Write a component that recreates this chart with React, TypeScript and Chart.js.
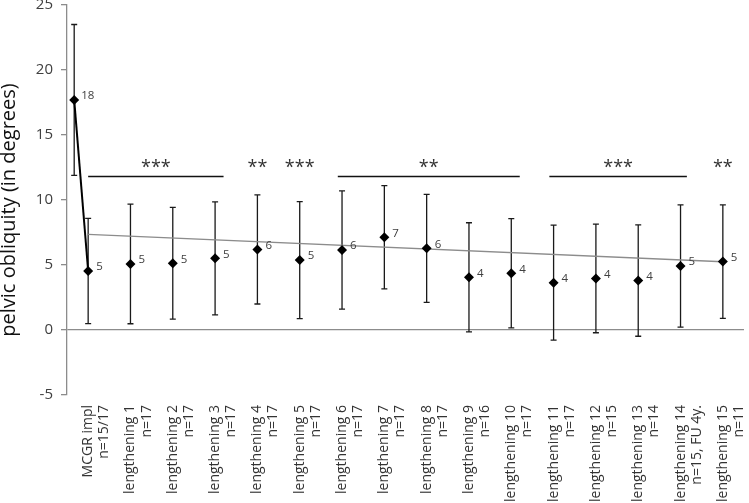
import React, { useEffect, useRef } from 'react';
import { Chart, registerables } from 'chart.js';

Chart.register(...registerables);

// ---- data ----
const categories: string[][] = [
  ['MCGR impl', 'n=15/17'],
  ['lengthening 1', 'n=17'],
  ['lengthening 2', 'n=17'],
  ['lengthening 3', 'n=17'],
  ['lengthening 4', 'n=17'],
  ['lengthening 5', 'n=17'],
  ['lengthening 6', 'n=17'],
  ['lengthening 7', 'n=17'],
  ['lengthening 8', 'n=17'],
  ['lengthening 9', 'n=16'],
  ['lengthening 10', 'n=17'],
  ['lengthening 11', 'n=17'],
  ['lengthening 12', 'n=15'],
  ['lengthening 13', 'n=14'],
  ['lengthening 14', 'n=15, FU 4y.'],
  ['lengthening 15', 'n=11'],
];
const means = [4.54, 5.08, 5.13, 5.51, 6.2, 5.38, 6.15, 7.13, 6.28, 4.05, 4.36, 3.64, 3.97, 3.8, 4.92, 5.26];
const sds = [4.05, 4.6, 4.3, 4.35, 4.2, 4.5, 4.55, 3.97, 4.15, 4.2, 4.2, 4.42, 4.18, 4.28, 4.7, 4.37];
const pointLabels = ['5', '5', '5', '5', '6', '5', '6', '7', '6', '4', '4', '4', '4', '4', '5', '5'];

const preopX = -0.33;
const preopMean = 17.7;
const preopSd = 5.8;
const preopLabel = '18';

const trendX = [0, 15];
const trendY = [7.35, 5.25];

const sigLabels = ['***', '**', '***', '**', '***', '**'];
const sigFrom = [0, 4, 5, 5.9, 10.9, 15];
const sigTo = [3.2, 4, 5, 10.2, 14.15, 15];
const sigLevel = 11.8;

const yMin = -5;
const yMax = 25;
const yStep = 5;
const yTitle = 'pelvic obliquity (in degrees)';

const FONT = "'Open Sans', sans-serif";

const errorBarPlugin = {
  id: 'errorBars',
  beforeDatasetsDraw(chart: any) {
    const { ctx } = chart;
    const x = chart.scales.x;
    const y = chart.scales.y;
    const items = [{ x: preopX, m: preopMean, s: preopSd }].concat(
      means.map((m, i) => ({ x: i, m, s: sds[i] }))
    );
    ctx.save();
    ctx.strokeStyle = '#1a1a1a';
    ctx.lineWidth = 1.3;
    for (const it of items) {
      const px = x.getPixelForValue(it.x);
      const top = y.getPixelForValue(it.m + it.s);
      const bot = y.getPixelForValue(it.m - it.s);
      ctx.beginPath();
      ctx.moveTo(px, top);
      ctx.lineTo(px, bot);
      ctx.moveTo(px - 3, top);
      ctx.lineTo(px + 3, top);
      ctx.moveTo(px - 3, bot);
      ctx.lineTo(px + 3, bot);
      ctx.stroke();
    }
    ctx.restore();
  },
};

const labelsPlugin = {
  id: 'extraLabels',
  afterDatasetsDraw(chart: any) {
    const { ctx } = chart;
    const x = chart.scales.x;
    const y = chart.scales.y;
    ctx.save();
    // point value labels
    ctx.font = `11.5px ${FONT}`;
    ctx.fillStyle = '#404040';
    ctx.textAlign = 'left';
    ctx.textBaseline = 'middle';
    ctx.fillText(preopLabel, x.getPixelForValue(preopX) + 7, y.getPixelForValue(preopMean) - 4);
    means.forEach((m, i) => {
      ctx.fillText(pointLabels[i], x.getPixelForValue(i) + 8, y.getPixelForValue(m) - 4);
    });
    // significance bars
    const by = y.getPixelForValue(sigLevel);
    ctx.strokeStyle = '#111';
    ctx.lineWidth = 1.5;
    ctx.font = `18px ${FONT}`;
    ctx.fillStyle = '#333';
    ctx.textAlign = 'center';
    ctx.textBaseline = 'alphabetic';
    sigLabels.forEach((lab, i) => {
      const x0 = x.getPixelForValue(sigFrom[i]);
      const x1 = x.getPixelForValue(sigTo[i]);
      if (sigTo[i] > sigFrom[i]) {
        ctx.beginPath();
        ctx.moveTo(x0, by);
        ctx.lineTo(x1, by);
        ctx.stroke();
      }
      ctx.fillText(lab, (x0 + x1) / 2, by - 4);
    });
    ctx.restore();
  },
  afterDraw(chart: any) {
    const { ctx, chartArea } = chart;
    ctx.save();
    ctx.font = `20px ${FONT}`;
    ctx.fillStyle = '#111';
    ctx.textAlign = 'center';
    ctx.textBaseline = 'alphabetic';
    ctx.translate(15, (chartArea.top + chartArea.bottom) / 2 + 10);
    ctx.rotate(-Math.PI / 2);
    ctx.fillText(yTitle, 0, 0);
    ctx.restore();
  },
};

export default function App() {
  const ref = useRef<HTMLCanvasElement | null>(null);

  useEffect(() => {
    if (!ref.current) return;
    const chart = new Chart(ref.current, {
      type: 'scatter',
      data: {
        datasets: [
          {
            label: 'mean',
            data: means.map((m, i) => ({ x: i, y: m })),
            showLine: false,
            pointStyle: 'rectRot',
            pointRadius: 5,
            pointBackgroundColor: '#000',
            pointBorderColor: '#000',
            pointBorderWidth: 0,
            order: 0,
          },
          {
            label: 'preop',
            data: [
              { x: preopX, y: preopMean },
              { x: 0, y: means[0] },
            ],
            showLine: true,
            borderColor: '#000',
            borderWidth: 2,
            pointStyle: 'rectRot',
            pointRadius: [5, 0],
            pointBackgroundColor: '#000',
            pointBorderColor: '#000',
            pointBorderWidth: 0,
            order: 1,
          },
          {
            label: 'trend',
            data: trendX.map((v, i) => ({ x: v, y: trendY[i] })),
            showLine: true,
            borderColor: '#8c8c8c',
            borderWidth: 1.3,
            pointRadius: 0,
            order: 2,
          },
        ],
      },
      options: {
        responsive: false,
        animation: false,
        events: [],
        layout: { padding: { top: 5, right: 5, left: 0, bottom: 0 } },
        plugins: {
          legend: { display: false },
          tooltip: { enabled: false },
          title: { display: false },
        },
        scales: {
          x: {
            type: 'linear',
            min: -0.5,
            max: 15.5,
            afterBuildTicks: (scale: any) => {
              scale.ticks = categories.map((_, i) => ({ value: i }));
            },
            afterFit: (scale: any) => {
              scale.height = 108;
              scale.paddingLeft = 0;
              scale.paddingRight = 0;
            },
            grid: { display: false, drawTicks: false },
            border: { display: false },
            ticks: {
              autoSkip: false,
              maxRotation: 90,
              minRotation: 90,
              padding: 10,
              color: '#333',
              font: { family: FONT, size: 14, lineHeight: 1.15 },
              callback: (value: any) => categories[Math.round(Number(value))] ?? '',
            },
          },
          y: {
            type: 'linear',
            min: yMin,
            max: yMax,
            afterFit: (scale: any) => {
              scale.width = 67;
              scale.paddingTop = 0;
              scale.paddingBottom = 0;
            },
            grid: {
              color: (c: any) => (c.tick && c.tick.value === 0 ? '#8c8c8c' : 'rgba(0,0,0,0)'),
              tickColor: '#8c8c8c',
              tickLength: 6,
              lineWidth: 1.3,
            },
            border: { display: true, color: '#8c8c8c', width: 1.3 },
            ticks: {
              stepSize: yStep,
              padding: 8,
              color: '#404040',
              font: { family: FONT, size: 15 },
            },
          },
        },
      },
      plugins: [errorBarPlugin, labelsPlugin],
    } as any);
    return () => chart.destroy();
  }, []);

  return (
    <div style={{ position: 'fixed', left: 0, top: 0, width: 749, height: 503, background: '#fff' }}>
      <canvas ref={ref} width={749} height={503} style={{ display: 'block' }} />
    </div>
  );
}
